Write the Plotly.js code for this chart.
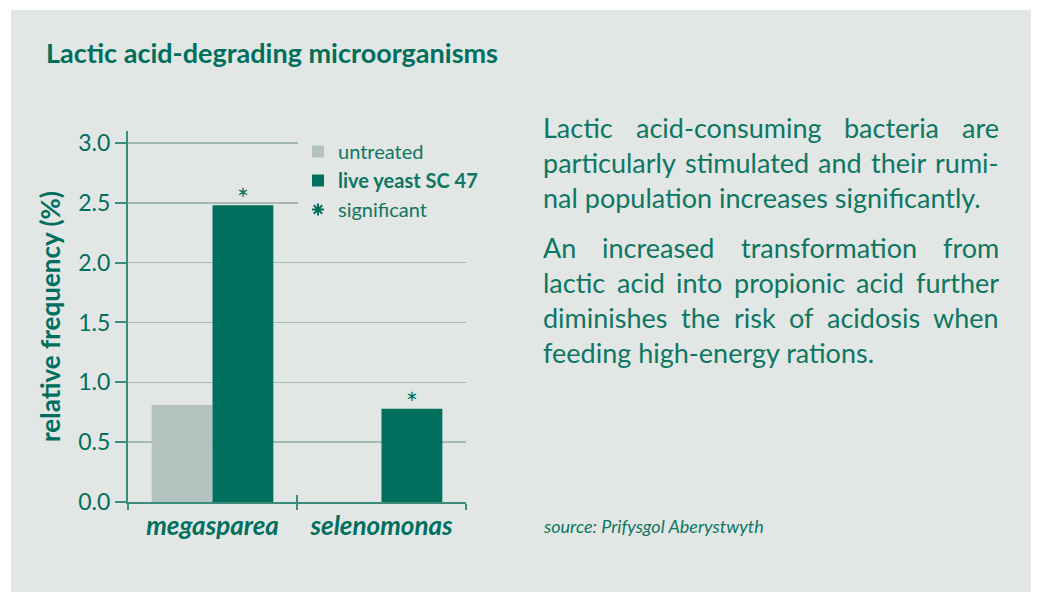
<!DOCTYPE html>
<html>
<head>
<meta charset="utf-8">
<script src="https://cdn.plot.ly/plotly-3.0.1.min.js"></script>
<style>html,body{margin:0;padding:0;background:#fff;}#chart{width:1037px;height:595px;}</style>
</head>
<body>
<div id="chart"></div>
<script>
// ---- data ----
const categories = ['megasparea', 'selenomonas'];
const untreated = [0.81, 0];
const liveYeast = [2.48, 0.78];
const liveYeastSignificant = [true, true];
const yTickVals = [0, 0.5, 1.0, 1.5, 2.0, 2.5, 3.0];
const seriesNames = ['untreated', 'live yeast SC 47', 'significant'];
const titleText = 'Lactic acid-degrading microorganisms';
const yTitleText = 'relative frequency (%)';
const para1Lines = ['Lactic acid-consuming bacteria are', 'particularly stimulated and their rumi-', 'nal population increases significantly.'];
const para2Lines = ['An increased transformation from', 'lactic acid into propionic acid further', 'diminishes the risk of acidosis when', 'feeding high-energy rations.'];
const sourceText = 'source: Prifysgol Aberystwyth';

// ---- style ----
const GREEN = '#006f5e';
const LIGHT = '#b4c3bf';
const PANEL = '#e2e7e5';
const TEXT = '#0e7663';
const AXIS = '#3a8c7b';
const GRID = '#a3b9b2';
const FONT = 'Lato, "Open Sans", sans-serif';

const W = 1037, H = 595;
const M = {l: 128, r: 571, t: 131, b: 93};
const PW = W - M.l - M.r, PH = H - M.t - M.b;
const px2x = p => (p - M.l) / PW;
const py2y = p => (H - M.b - p) / PH;
const BARGAP = 0.28;

const annotations = [];
// justified body text
const canvas = document.createElement('canvas');
const ctx = canvas.getContext('2d');
const BODY_SIZE = 27;
ctx.font = BODY_SIZE + 'px Lato';
function addParagraph(lines, firstCenterY) {
  const left = 541, right = 997, lh = 35.3;
  lines.forEach((line, i) => {
    const y = py2y(firstCenterY + i * lh);
    const last = i === lines.length - 1;
    if (last) {
      annotations.push({text: line, xref: 'paper', yref: 'paper', x: px2x(left), y: y,
        xanchor: 'left', yanchor: 'middle', showarrow: false,
        font: {family: FONT, size: BODY_SIZE, color: TEXT}});
      return;
    }
    const words = line.split(' ');
    const widths = words.map(w => ctx.measureText(w).width);
    const total = widths.reduce((a, b) => a + b, 0);
    const gap = (right - left - total) / (words.length - 1);
    let cx = left;
    words.forEach((w, k) => {
      annotations.push({text: w, xref: 'paper', yref: 'paper', x: px2x(cx), y: y,
        xanchor: 'left', yanchor: 'middle', showarrow: false,
        font: {family: FONT, size: BODY_SIZE, color: TEXT}});
      cx += widths[k] + gap;
    });
  });
}
addParagraph(para1Lines, 127);
addParagraph(para2Lines, 247);

annotations.push({text: '<i>' + sourceText + '</i>', xref: 'paper', yref: 'paper',
  x: px2x(541), y: py2y(526), xanchor: 'left', yanchor: 'middle', showarrow: false,
  font: {family: FONT, size: 18, color: TEXT}});

// significance asterisks above the live-yeast bars (second bar of each group)
const catPx = PW / categories.length;
const barOffsetPx = (1 - BARGAP) / 4 * catPx;
categories.forEach((c, i) => {
  if (!liveYeastSignificant[i]) return;
  annotations.push({text: '*', xref: 'x', yref: 'y', x: c, y: liveYeast[i],
    xshift: barOffsetPx, yshift: -13, xanchor: 'center', yanchor: 'bottom', showarrow: false,
    font: {family: FONT, size: 28, color: GREEN}});
});

const traces = [
  {type: 'bar', name: seriesNames[0], x: categories, y: untreated,
   marker: {color: LIGHT}, textposition: 'none', hoverinfo: 'skip'},
  {type: 'bar', name: '<b>' + seriesNames[1] + '</b>', x: categories, y: liveYeast,
   marker: {color: GREEN}, textposition: 'none', hoverinfo: 'skip'},
  {type: 'scatter', mode: 'markers', name: seriesNames[2], x: [null], y: [null],
   xaxis: 'x2', marker: {symbol: 'asterisk-open', size: 10, color: GREEN, line: {color: GREEN, width: 2}}}
];

const layout = {
  width: W, height: H,
  margin: M,
  paper_bgcolor: '#ffffff',
  plot_bgcolor: 'rgba(0,0,0,0)',
  font: {family: FONT, color: TEXT},
  barmode: 'group', bargap: BARGAP, bargroupgap: 0,
  showlegend: true,
  hovermode: false,
  title: {text: '<b>' + titleText + '</b>', xref: 'container', yref: 'container',
    x: 46 / W, xanchor: 'left', y: 1 - 54 / H, yanchor: 'middle',
    font: {family: FONT, size: 27, color: GREEN}},
  legend: {x: px2x(298), y: py2y(132), xanchor: 'left', yanchor: 'top',
    bgcolor: PANEL, font: {family: FONT, size: 20, color: TEXT}, traceorder: 'normal',
    itemclick: false, itemdoubleclick: false},
  xaxis: {type: 'category', range: [-0.5, 1.5], fixedrange: true,
    showline: true, linecolor: AXIS, linewidth: 2,
    ticks: 'outside', tickson: 'boundaries', ticklen: 6, tickwidth: 2, tickcolor: AXIS,
    showgrid: false, zeroline: false,
    tickfont: {family: FONT, size: 26, color: GREEN, weight: 'bold', style: 'italic'}},
  xaxis2: {overlaying: 'x', anchor: 'y', range: [-0.5, 1.5], fixedrange: true,
    tickmode: 'array', tickvals: [-0.5, 0.5, 1.5], ticks: 'inside', ticklen: 7, tickwidth: 2,
    tickcolor: AXIS, showticklabels: false, showgrid: false, zeroline: false, showline: false},
  yaxis: {range: [0, 3.1], fixedrange: true, tickmode: 'array', tickvals: yTickVals,
    tickformat: '.1f', ticks: 'outside', ticklen: 11, tickwidth: 2, tickcolor: AXIS,
    showline: true, linecolor: AXIS, linewidth: 2,
    showgrid: true, gridcolor: GRID, gridwidth: 1.5, zeroline: false,
    tickfont: {family: FONT, size: 23, color: GREEN},
    title: {text: '<b>' + yTitleText + '</b>', standoff: 10,
      font: {family: FONT, size: 26, color: GREEN}}},
  shapes: [{type: 'rect', xref: 'paper', yref: 'paper', layer: 'below',
    x0: px2x(11), x1: px2x(1031), y0: py2y(592), y1: py2y(10),
    fillcolor: PANEL, line: {width: 0}}],
  annotations: annotations
};

Plotly.newPlot('chart', traces, layout, {displayModeBar: false, staticPlot: true});
</script>
</body>
</html>
